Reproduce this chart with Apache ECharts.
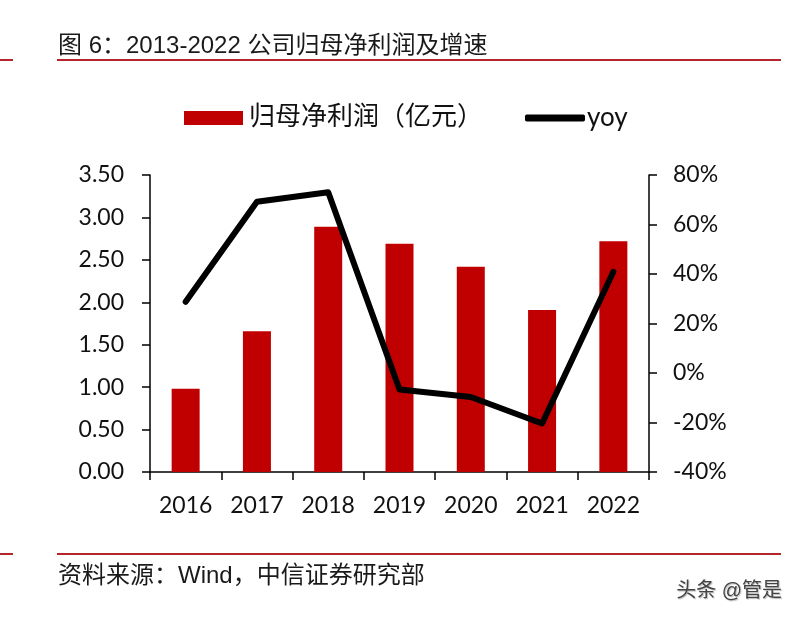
<!DOCTYPE html>
<html>
<head>
<meta charset="utf-8">
<script src="https://cdn.jsdelivr.net/npm/echarts@6/dist/echarts.min.js"></script>
<style>
  html, body { margin: 0; padding: 0; background: #fff; }
  #chart { width: 800px; height: 618px; }
</style>
</head>
<body>
<div id="chart"></div>
<script>
// data
var years = ["2016", "2017", "2018", "2019", "2020", "2021", "2022"];
var profit = [0.98, 1.66, 2.89, 2.69, 2.42, 1.91, 2.72]; // 亿元
var yoy = [28.8, 69.2, 73.0, -6.7, -9.7, -20.4, 40.9]; // %

var barName = "归母净利润（亿元）";
var lineName = "yoy";
var titleText = "图 6：2013-2022 公司归母净利润及增速";
var sourceText = "资料来源：Wind，中信证券研究部";
var markText = "头条 @管是";

var labelFont = "Lato, 'Noto Sans CJK SC', sans-serif";
var cjkFont = "'Liberation Sans', 'Noto Sans CJK SC', sans-serif";
var red = "#C00000";
var ruleColor = "#b4262b";

var chart = echarts.init(document.getElementById("chart"));

var axisLine = { show: true, lineStyle: { color: "#000", width: 1.5 } };
var axisTick = { show: true, length: 8, lineStyle: { color: "#000", width: 1.5 } };

var option = {
  backgroundColor: "#fff",
  animation: false,
  title: {
    text: titleText,
    left: 53,
    top: 29,
    textStyle: { fontFamily: cjkFont, fontSize: 24, fontWeight: "normal", color: "#1a1a1a" }
  },
  legend: [
    {
      data: [{ name: barName, icon: "rect" }],
      left: 184,
      top: 105,
      padding: 0,
      itemWidth: 59,
      itemHeight: 14,
      textStyle: { fontFamily: cjkFont, fontSize: 26, color: "#111", padding: [0, 0, 0, 1] }
    },
    {
      data: [{ name: lineName, icon: "roundRect" }],
      left: 525,
      top: 105,
      padding: 0,
      itemWidth: 60,
      itemHeight: 7,
      textStyle: { fontFamily: labelFont, fontSize: 26, color: "#111", padding: [0, 0, 0, -3] }
    }
  ],
  grid: { left: 150, right: 151, top: 175, bottom: 146 },
  xAxis: {
    type: "category",
    data: years,
    axisLine: axisLine,
    axisTick: axisTick,
    axisLabel: { fontFamily: labelFont, fontSize: 23, color: "#111", margin: 22 }
  },
  yAxis: [
    {
      type: "value",
      min: 0,
      max: 3.5,
      interval: 0.5,
      axisLine: axisLine,
      axisTick: axisTick,
      splitLine: { show: false },
      axisLabel: {
        fontFamily: labelFont, fontSize: 23, color: "#111", margin: 26,
        formatter: function (v) { return v.toFixed(2); }
      }
    },
    {
      type: "value",
      min: -40,
      max: 80,
      interval: 20,
      position: "right",
      axisLine: axisLine,
      axisTick: axisTick,
      splitLine: { show: false },
      axisLabel: {
        fontFamily: labelFont, fontSize: 23, color: "#111", margin: 24,
        formatter: "{value}%"
      }
    }
  ],
  series: [
    {
      name: barName,
      type: "bar",
      data: profit,
      barWidth: 28,
      itemStyle: { color: red }
    },
    {
      name: lineName,
      type: "line",
      yAxisIndex: 1,
      data: yoy,
      symbol: "none",
      itemStyle: { color: "#000" },
      lineStyle: { color: "#000", width: 6, cap: "round", join: "round" }
    }
  ],
  graphic: [
    { type: "line", shape: { x1: 0, y1: 60, x2: 13, y2: 60 }, style: { stroke: ruleColor, lineWidth: 2 } },
    { type: "line", shape: { x1: 57, y1: 60, x2: 781, y2: 60 }, style: { stroke: ruleColor, lineWidth: 2 } },
    { type: "line", shape: { x1: 0, y1: 554, x2: 13, y2: 554 }, style: { stroke: ruleColor, lineWidth: 2 } },
    { type: "line", shape: { x1: 57, y1: 554, x2: 781, y2: 554 }, style: { stroke: ruleColor, lineWidth: 2 } },
    {
      type: "text",
      left: 58,
      top: 564,
      style: { text: sourceText, font: "24px " + cjkFont, fill: "#1a1a1a" }
    },
    {
      type: "text",
      right: 18,
      top: 581,
      style: {
        text: markText, font: "20px " + cjkFont, fill: "#444",
        textShadowColor: "#bbb", textShadowOffsetX: 1, textShadowOffsetY: 1, textShadowBlur: 1
      }
    }
  ]
};

option && chart.setOption(option);
</script>
</body>
</html>
